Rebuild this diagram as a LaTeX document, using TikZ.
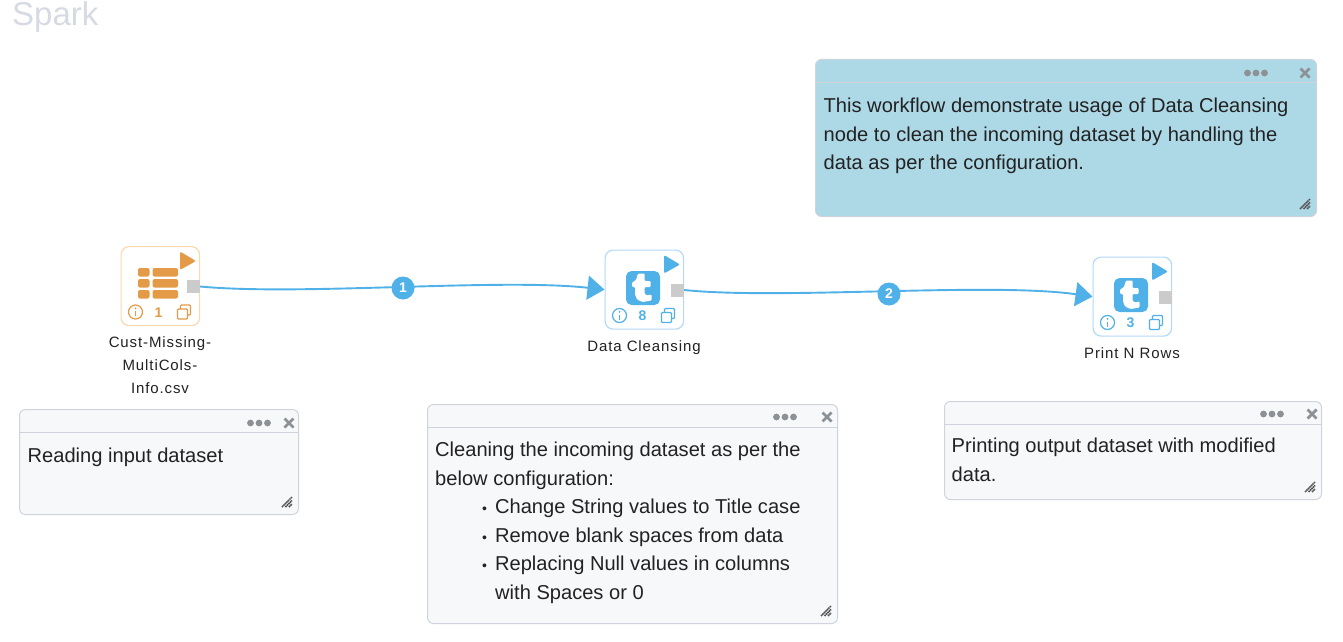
\documentclass[tikz,border=0pt]{standalone}
\usepackage{fontspec}
\setmainfont{Liberation Sans}
\usetikzlibrary{arrows.meta,calc}
\definecolor{orangeic}{HTML}{E39B48}
\definecolor{orangebd}{HTML}{FBD9B0}
\definecolor{blueic}{HTML}{4FB1E8}
\definecolor{bluebd}{HTML}{B5DAF7}
\definecolor{portgray}{HTML}{CBCBCB}
\definecolor{notefill}{HTML}{F7F8FA}
\definecolor{notebd}{HTML}{CFD4DC}
\definecolor{noteblue}{HTML}{ADD8E6}
\definecolor{dotgray}{HTML}{8C9196}
\definecolor{titlegray}{HTML}{D6DBE3}
\definecolor{txt}{HTML}{222222}
\newfontfamily\labelfont[LetterSpace=6]{Liberation Sans}
\newcommand{\smallbul}{{\fontsize{14}{14}\selectfont\textbullet}}
\tikzset{
  x=1pt,y=-1pt,
  notebox/.style={draw=notebd,line width=1pt,rounded corners=6pt,anchor=north west,inner sep=0pt,fill=notefill},
  notetext/.style={anchor=north west,inner sep=0pt,align=left,text=txt,font=\fontsize{20.1}{28.5}\selectfont},
  wfbox/.style={draw=#1,line width=1.2pt,rounded corners=8pt,fill=white,anchor=north west,inner sep=0pt,minimum width=78.5pt,minimum height=79pt},
  port/.style={fill=portgray,inner sep=0pt,minimum size=13pt},
  wflabel/.style={anchor=north,align=center,inner sep=0pt,text=txt,font=\fontsize{15}{23}\labelfont},
  wire/.style={draw=blueic,line width=1.9pt,-{Triangle[length=17pt,width=24pt]}},
  badge/.style={circle,fill=blueic,text=white,inner sep=0pt,minimum size=23pt,font=\fontsize{14}{14}\selectfont\bfseries},
  icnum/.style={inner sep=0pt,font=\fontsize{14}{14}\selectfont\bfseries},
}
% #1 name, #2 x, #3 y, #4 w, #5 h, #6 fill, #7 dots x, #8 dots/close y, #9 close x
\newcommand{\notepanel}[9]{%
  \node[notebox,fill=#6,minimum width=#4pt,minimum height=#5pt] (#1) at (#2,#3) {};
  \draw[notebd,line width=1pt] ($(#1.north west)+(0,23)$) -- ($(#1.north east)+(0,23)$);
  \foreach \d in {-8.5,0,8.5} \fill[dotgray] (#7+\d,#8) circle (3.4pt);
  \draw[dotgray,line width=2.8pt] (#9-4.5,#8-4.5) -- (#9+4.5,#8+4.5) (#9-4.5,#8+4.5) -- (#9+4.5,#8-4.5);
  \begin{scope}[shift={(#1.south east)}]
    \draw[black!68,line width=1.5pt,dash pattern=on 1.5pt off 0.6pt]
      (-17,-8) -- (-7,-18) (-13.5,-8) -- (-7,-14.5) (-10,-8) -- (-7,-11);
  \end{scope}
}
% #1 name, #2 x, #3 y, #4 icon colour, #5 border, #6 number
\newcommand{\wfnode}[6]{%
  \node[wfbox=#5] (#1) at (#2,#3) {};
  \begin{scope}[shift={(#2,#3)}]
    \fill[#4,rounded corners=2pt] (59.5,5.5) -- (59.5,24) -- (75.5,15) -- cycle;
    \draw[#4,line width=1.2pt] (15,66) circle (7pt);
    \fill[#4] (15,62.3) circle (1pt);
    \draw[#4,line width=1.4pt] (15,65) -- (15,70);
    \node[icnum,text=#4] (#1num) at (38,66.5) {#6};
    \draw[#4,line width=1.2pt,rounded corners=1pt] (57,63) rectangle (67,73);
    \draw[#4,line width=1.2pt,rounded corners=1pt] (60,63) -- (60,59) -- (70,59) -- (70,69) -- (67,69);
  \end{scope}
  \node[port] (#1port) at ($(#2,#3)+(73,40.5)$) {};
}
\newcommand{\tlogo}[3]{%
  \begin{scope}[shift={(#2,#3)}]
    \node[fill=blueic,rounded corners=5.5pt,minimum size=34pt,inner sep=0pt,anchor=center] (#1) at (38.5,38.5) {};
    \fill[white,rounded corners=1pt] (33.5,24) -- (40,24) -- (40,31.5) -- (46,31.5) -- (46,37.5) -- (40,37.5) -- (40,44) -- (42,46) -- (47,45) -- (47,51) -- (38,52.5) -- (32.5,50) -- (30.5,45) -- (30.5,37.5) -- (27.5,37.5) -- (27.5,33) -- (31.5,30.5) -- cycle;
  \end{scope}
}
\begin{document}
\begin{tikzpicture}
\useasboundingbox (0,0) rectangle (1343,642);
\fill[white] (0,0) rectangle (1343,642);
\node[anchor=base west,inner sep=0pt,text=titlegray,font=\fontsize{33}{33}\selectfont] (title) at (12,26) {Spark};

% notes
\notepanel{noteintro}{815}{59}{501}{157}{noteblue}{1256}{73}{1305}
\node[notetext] (introtext) at (823.5,98) {This workflow demonstrate usage of Data Cleansing\\node to clean the incoming dataset by handling the\\data as per the configuration.};
\notepanel{notea}{19}{409}{279}{105}{notefill}{259}{423}{289}
\node[notetext] (atext) at (27.5,447.5) {Reading input dataset};
\notepanel{noteb}{427}{404}{410}{219}{notefill}{785}{417}{827}
\node[notetext] (btext) at (435,442) {Cleaning the incoming dataset as per the\\below configuration:\\
\hspace*{47pt}\smallbul\hspace*{8pt}Change String values to Title case\\
\hspace*{47pt}\smallbul\hspace*{8pt}Remove blank spaces from data\\
\hspace*{47pt}\smallbul\hspace*{8pt}Replacing Null values in columns\\
\hspace*{60pt}with Spaces or 0};
\notepanel{notec}{944}{401}{377}{98}{notefill}{1272}{414}{1312}
\node[notetext] (ctext) at (951.5,438) {Printing output dataset with modified\\data.};

% workflow nodes
\wfnode{csv}{120.5}{246}{orangeic}{orangebd}{1}
\foreach \r in {268,279,290} {
  \fill[orangeic,rounded corners=2pt] (138,\r) rectangle (149.5,\r+8.5);
  \fill[orangeic,rounded corners=2pt] (152.5,\r) rectangle (178,\r+8.5);
}
\wfnode{clean}{604.5}{249.5}{blueic}{bluebd}{8}
\tlogo{cleanlogo}{604.5}{249.5}
\wfnode{print}{1092.5}{256.5}{blueic}{bluebd}{3}
\tlogo{printlogo}{1092.5}{256.5}

\node[wflabel] (csvlabel) at (160,336) {Cust-Missing-\\MultiCols-\\Info.csv};
\node[wflabel] (cleanlabel) at (644,340) {Data Cleansing};
\node[wflabel] (printlabel) at (1132,347) {Print N Rows};

% connectors
\draw[wire] (csvport.east) .. controls (300,296) and (500,278) .. (clean.west);
\draw[wire] (cleanport.east) .. controls (780,300) and (990,282) .. (print.west);
\node[badge] (b1) at (403,288) {1};
\node[badge] (b2) at (889,294) {2};
\end{tikzpicture}
\end{document}
